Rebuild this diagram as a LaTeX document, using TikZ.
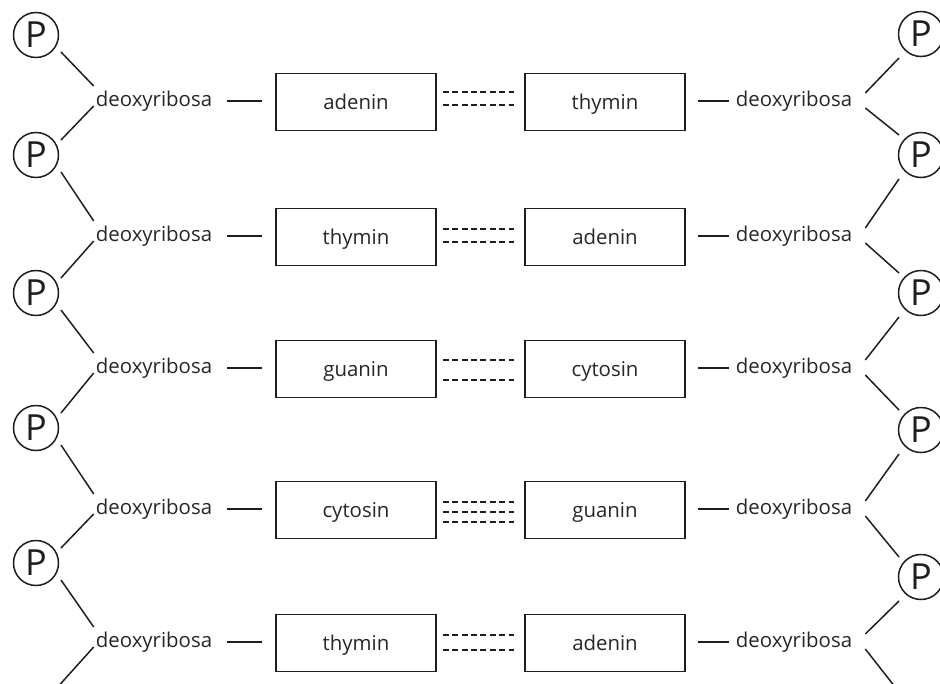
\documentclass[tikz,border=0pt]{standalone}
\usepackage{fontspec}
\setmainfont{Open Sans}
\usetikzlibrary{calc}
\definecolor{txt}{HTML}{262626}
\definecolor{ln}{HTML}{1E1E1E}
\tikzset{
  pcirc/.style={circle, draw=ln, line width=1.5pt, minimum size=45pt, inner sep=0pt,
    text=ln, font=\fontsize{36}{36}\selectfont},
  sugar/.style={inner sep=0pt, text height=15pt, text depth=5pt, text=txt,
    font=\fontsize{20.4}{24}\selectfont},
  basebox/.style={draw=ln, line width=1.5pt, minimum width=160pt, minimum height=57pt,
    inner sep=0pt, text height=16pt, text depth=2pt, text=txt,
    font=\fontsize{20.4}{24}\selectfont},
  bond/.style={draw=ln, line width=1.5pt},
  hbond/.style={draw=ln, line width=1.5pt, dash pattern=on 6pt off 3.4pt},
}
\begin{document}
\begin{tikzpicture}[x=1pt,y=-1pt]
\useasboundingbox (0,0) rectangle (940,683);
\clip (0,0) rectangle (940,683);
% phosphate groups
\foreach \i/\yl/\yr in {1/35/34, 2/155/155, 3/293/293, 4/428/430, 5/563/577}{
  \node[pcirc] (PL\i) at (36,\yl) {P};
  \node[pcirc] (PR\i) at (921,\yr) {P};
}
\coordinate (PL6) at (30,705);
\coordinate (PR6) at (921,712);
% rows
\foreach \i/\y/\l/\r [evaluate=\i as \j using int(\i+1)] in
  {1/102/adenin/thymin, 2/237/thymin/adenin, 3/369/guanin/cytosin,
   4/510/cytosin/guanin, 5/643/thymin/adenin}{
  \node[sugar] (dL\i) at (154,\y-1) {deoxyribosa};
  \node[sugar] (dR\i) at (794,\y-1) {deoxyribosa};
  \node[basebox] (bL\i) at (356,\y) {\l};
  \node[basebox] (bR\i) at (605,\y) {\r};
  \draw[bond] ([xshift=15pt]dL\i.east) -- ([xshift=-13pt]bL\i.west |- dL\i.east);
  \draw[bond] ([xshift=12pt]bR\i.east |- dR\i.west) -- ([xshift=-7pt]dR\i.west);
  % left backbone
  \draw[bond] ($(PL\i)+(25,17)$) -- ($(dL\i.west)+(-2,-15)$);
  \draw[bond] ($(dL\i.west)+(-2,5)$) -- ($(PL\j)+(25,-15)$);
  % right backbone
  \draw[bond] ($(dR\i.east)+(13,-8)$) -- ($(PR\i)+(-22,24)$);
  \draw[bond] ($(dR\i.east)+(13,7)$) -- ($(PR\j)+(-22,-20)$);
}
% hydrogen bonds
\foreach \i/\offs in {1/{-10,3}, 2/{-8,5}, 3/{-9,11}, 4/{-8,2,12}, 5/{-8,7}}{
  \foreach \o in \offs{
    \draw[hbond] ($(bL\i.east)+(6,\o)$) -- ($(bR\i.west)+(-10,\o)$);
  }
}
\end{tikzpicture}
\end{document}
